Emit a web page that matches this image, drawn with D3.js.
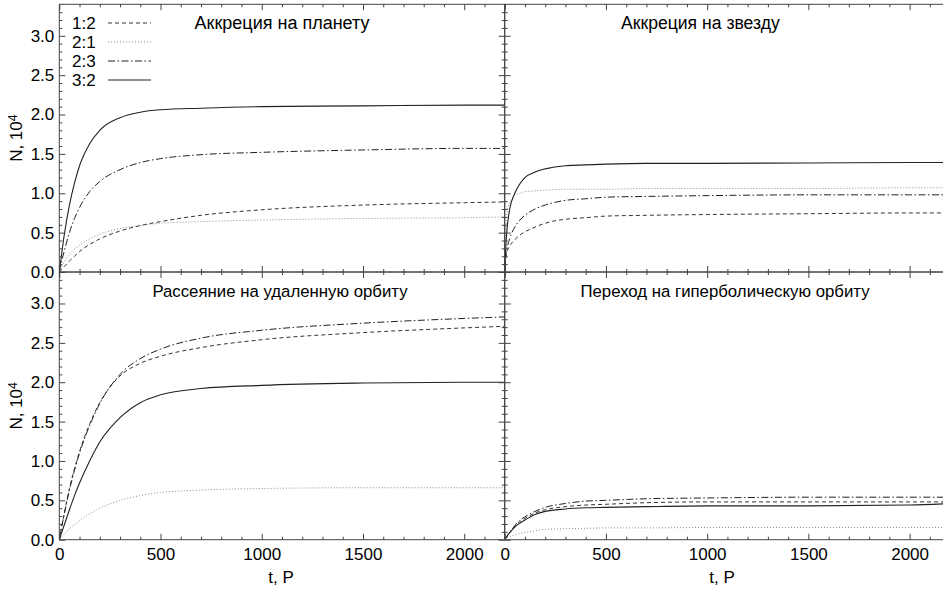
<!DOCTYPE html>
<html>
<head>
<meta charset="utf-8">
<script src="https://cdn.jsdelivr.net/npm/d3@7"></script>
<style>
  html, body { margin: 0; padding: 0; background: #fff; }
  svg { display: block; font-family: "Liberation Sans", Arial, sans-serif; }
</style>
</head>
<body>
<svg id="chart" width="943" height="592"></svg>
<script>
// Time grid (orbital periods P) shared by every curve
const times = [0, 5, 10, 25, 50, 75, 100, 150, 200, 300, 400, 500, 700, 1000, 1500, 2000, 2200];

// Resonance labels and their line styles
const resonances = ["1:2", "2:1", "2:3", "3:2"];

// Panel titles
const titles = [
  "Аккреция на планету",
  "Аккреция на звезду",
  "Рассеяние на удаленную орбиту",
  "Переход на гиперболическую орбиту"
];

// Cumulative counts N (in units of 10^4) — accretion onto the planet
const planet_1_2 = [0, 0.01, 0.03, 0.07, 0.14, 0.20, 0.26, 0.35, 0.42, 0.52, 0.59, 0.64, 0.72, 0.79, 0.85, 0.88, 0.89];
const planet_2_1 = [0, 0.03, 0.06, 0.13, 0.22, 0.29, 0.34, 0.42, 0.48, 0.55, 0.59, 0.62, 0.64, 0.66, 0.68, 0.69, 0.70];
const planet_2_3 = [0, 0.06, 0.12, 0.27, 0.50, 0.68, 0.82, 1.02, 1.15, 1.30, 1.39, 1.44, 1.49, 1.52, 1.55, 1.57, 1.57];
const planet_3_2 = [0, 0.10, 0.20, 0.48, 0.85, 1.13, 1.35, 1.63, 1.80, 1.96, 2.03, 2.06, 2.08, 2.10, 2.11, 2.12, 2.12];

// Accretion onto the star
const star_1_2 = [0, 0.16, 0.24, 0.33, 0.41, 0.47, 0.51, 0.57, 0.62, 0.67, 0.69, 0.71, 0.72, 0.73, 0.74, 0.75, 0.75];
const star_2_1 = [0, 0.50, 0.72, 0.88, 0.97, 1.00, 1.02, 1.03, 1.04, 1.05, 1.05, 1.05, 1.06, 1.06, 1.06, 1.07, 1.07];
const star_2_3 = [0, 0.20, 0.28, 0.43, 0.57, 0.66, 0.72, 0.80, 0.85, 0.91, 0.93, 0.95, 0.96, 0.97, 0.98, 0.98, 0.98];
const star_3_2 = [0, 0.30, 0.50, 0.80, 1.00, 1.12, 1.20, 1.27, 1.31, 1.35, 1.36, 1.37, 1.38, 1.38, 1.385, 1.39, 1.39];

// Scattering to a distant orbit
const distant_1_2 = [0, 0.07, 0.14, 0.34, 0.65, 0.90, 1.12, 1.47, 1.74, 2.08, 2.24, 2.33, 2.44, 2.54, 2.63, 2.69, 2.71];
const distant_2_1 = [0, 0.015, 0.03, 0.07, 0.14, 0.19, 0.24, 0.33, 0.40, 0.50, 0.56, 0.60, 0.63, 0.65, 0.66, 0.66, 0.66];
const distant_2_3 = [0, 0.07, 0.14, 0.33, 0.63, 0.88, 1.10, 1.45, 1.73, 2.10, 2.30, 2.42, 2.56, 2.66, 2.75, 2.81, 2.83];
const distant_3_2 = [0, 0.04, 0.08, 0.19, 0.38, 0.56, 0.72, 1.00, 1.24, 1.55, 1.74, 1.84, 1.92, 1.96, 1.99, 2.00, 2.00];

// Transition to a hyperbolic orbit
const hyper_1_2 = [0, 0.02, 0.04, 0.09, 0.17, 0.23, 0.27, 0.34, 0.38, 0.42, 0.44, 0.45, 0.47, 0.48, 0.48, 0.48, 0.48];
const hyper_2_1 = [0, 0.01, 0.02, 0.04, 0.06, 0.08, 0.09, 0.115, 0.13, 0.14, 0.145, 0.15, 0.15, 0.155, 0.155, 0.155, 0.155];
const hyper_2_3 = [0, 0.02, 0.04, 0.09, 0.18, 0.25, 0.29, 0.36, 0.41, 0.46, 0.49, 0.50, 0.52, 0.53, 0.54, 0.54, 0.54];
const hyper_3_2 = [0, 0.02, 0.04, 0.09, 0.16, 0.21, 0.25, 0.32, 0.36, 0.39, 0.405, 0.41, 0.42, 0.43, 0.43, 0.44, 0.46];

// Axis ticks
const xMajor = [0, 500, 1000, 1500, 2000];
const yMajor = [0, 0.5, 1.0, 1.5, 2.0, 2.5, 3.0];

const panelSeries = [
  [planet_1_2, planet_2_1, planet_2_3, planet_3_2],
  [star_1_2, star_2_1, star_2_3, star_3_2],
  [distant_1_2, distant_2_1, distant_2_3, distant_3_2],
  [hyper_1_2, hyper_2_1, hyper_2_3, hyper_3_2]
];

// ---- layout ----
const W = 943, H = 592;
const left0 = 59.3, top0 = 4.3;
const pw = 445.4, ph = 267.7;
const xMax = 2200, yMax = 3.4;

const styles = [
  { stroke: "#333", dash: "4,3", width: 1 },          // 1:2 dashed
  { stroke: "#8a8a8a", dash: "1,2", width: 1 },       // 2:1 dotted
  { stroke: "#222", dash: "7,2.5,1.5,2.5", width: 1 },// 2:3 dash-dot
  { stroke: "#222", dash: null, width: 1.1 }          // 3:2 solid
];

const titlePos = [
  { x: 282, anchor: "middle", size: 18 },
  { x: 621, anchor: "start", size: 17.6 },
  { x: 280, anchor: "middle", size: 16.8 },
  { x: 725, anchor: "middle", size: 16.8 }
];

const svg = d3.select("#chart");
svg.append("rect").attr("width", W).attr("height", H).attr("fill", "#fff");

const axisColor = "#444";
const fontSize = 17;

panelSeries.forEach((series, i) => {
  const col = i % 2, row = Math.floor(i / 2);
  const x0 = left0 + col * pw, y0 = top0 + row * ph;
  const x = d3.scaleLinear().domain([0, xMax]).range([x0, x0 + pw]);
  const y = d3.scaleLinear().domain([0, yMax]).range([y0 + ph, y0]);

  const g = svg.append("g");
  const clipId = "clip" + i;
  svg.append("clipPath").attr("id", clipId)
    .append("rect").attr("x", x0).attr("y", y0).attr("width", pw).attr("height", ph);

  // curves
  const line = d3.line().x(d => x(d[0])).y(d => y(d[1])).curve(d3.curveMonotoneX);
  series.forEach((vals, k) => {
    const st = styles[k];
    g.append("path")
      .datum(times.map((t, j) => [t, vals[j]]))
      .attr("clip-path", `url(#${clipId})`)
      .attr("fill", "none")
      .attr("stroke", st.stroke)
      .attr("stroke-width", st.width)
      .attr("stroke-dasharray", st.dash)
      .attr("d", line);
  });

  // axes with inward ticks on all four sides
  const xMinor = d3.range(0, xMax + 1, 100).filter(v => !xMajor.includes(v));
  const yMinor = d3.range(0, 34).map(v => v / 10).filter(v => !yMajor.some(m => Math.abs(m - v) < 1e-9));

  const addAxis = (axis, tx, ty) => {
    const a = g.append("g").attr("transform", `translate(${tx},${ty})`).call(axis);
    a.select(".domain").remove();
    a.selectAll("line").attr("stroke", axisColor);
    a.selectAll("text").attr("fill", "#000").style("font-size", fontSize + "px")
      .style("font-family", "'Liberation Sans', Arial, sans-serif");
    return a;
  };

  // bottom
  addAxis(d3.axisBottom(x).tickValues(xMajor).tickSizeInner(-6).tickSizeOuter(0).tickPadding(8)
    .tickFormat(row === 1 ? d3.format("d") : () => ""), 0, y0 + ph);
  addAxis(d3.axisBottom(x).tickValues(xMinor).tickSizeInner(-3).tickSizeOuter(0).tickFormat(() => ""), 0, y0 + ph);
  // top
  addAxis(d3.axisTop(x).tickValues(xMajor).tickSizeInner(-6).tickSizeOuter(0).tickFormat(() => ""), 0, y0);
  addAxis(d3.axisTop(x).tickValues(xMinor).tickSizeInner(-3).tickSizeOuter(0).tickFormat(() => ""), 0, y0);
  // left
  addAxis(d3.axisLeft(y).tickValues(yMajor).tickSizeInner(-6).tickSizeOuter(0).tickPadding(5)
    .tickFormat(col === 0 ? d3.format(".1f") : () => ""), x0, 0);
  addAxis(d3.axisLeft(y).tickValues(yMinor).tickSizeInner(-3).tickSizeOuter(0).tickFormat(() => ""), x0, 0);
  // right
  addAxis(d3.axisRight(y).tickValues(yMajor).tickSizeInner(-6).tickSizeOuter(0).tickFormat(() => ""), x0 + pw, 0);
  addAxis(d3.axisRight(y).tickValues(yMinor).tickSizeInner(-3).tickSizeOuter(0).tickFormat(() => ""), x0 + pw, 0);

  // frame
  g.append("rect").attr("x", x0).attr("y", y0).attr("width", pw).attr("height", ph)
    .attr("fill", "none").attr("stroke", axisColor).attr("stroke-width", 1);

  // title
  g.append("text")
    .attr("x", titlePos[i].x).attr("y", y0 + 25)
    .attr("text-anchor", titlePos[i].anchor)
    .style("font-size", titlePos[i].size + "px").attr("fill", "#000")
    .text(titles[i]);

  // axis titles
  if (row === 1) {
    g.append("text")
      .attr("x", col === 0 ? 281 : 722).attr("y", 583)
      .attr("text-anchor", "middle")
      .style("font-size", fontSize + "px").attr("fill", "#000")
      .text("t, P");
  }
  if (col === 0) {
    const t = g.append("text")
      .attr("transform", `translate(22,${y0 + ph / 2}) rotate(-90)`)
      .attr("text-anchor", "middle")
      .style("font-size", fontSize + "px").attr("fill", "#000");
    t.append("tspan").text("N, 10");
    t.append("tspan").attr("dy", "-0.45em").style("font-size", (fontSize * 0.72) + "px").text("4");
  }

  // legend in the first panel
  if (i === 0) {
    const lg = g.append("g");
    resonances.forEach((r, k) => {
      const yy = 23 + k * 19;
      lg.append("text").attr("x", 72).attr("y", yy + 6)
        .style("font-size", fontSize + "px").attr("fill", "#000").text(r);
      lg.append("line").attr("x1", 108).attr("x2", 151).attr("y1", yy).attr("y2", yy)
        .attr("stroke", styles[k].stroke).attr("stroke-width", styles[k].width)
        .attr("stroke-dasharray", styles[k].dash);
    });
  }
});
</script>
</body>
</html>
